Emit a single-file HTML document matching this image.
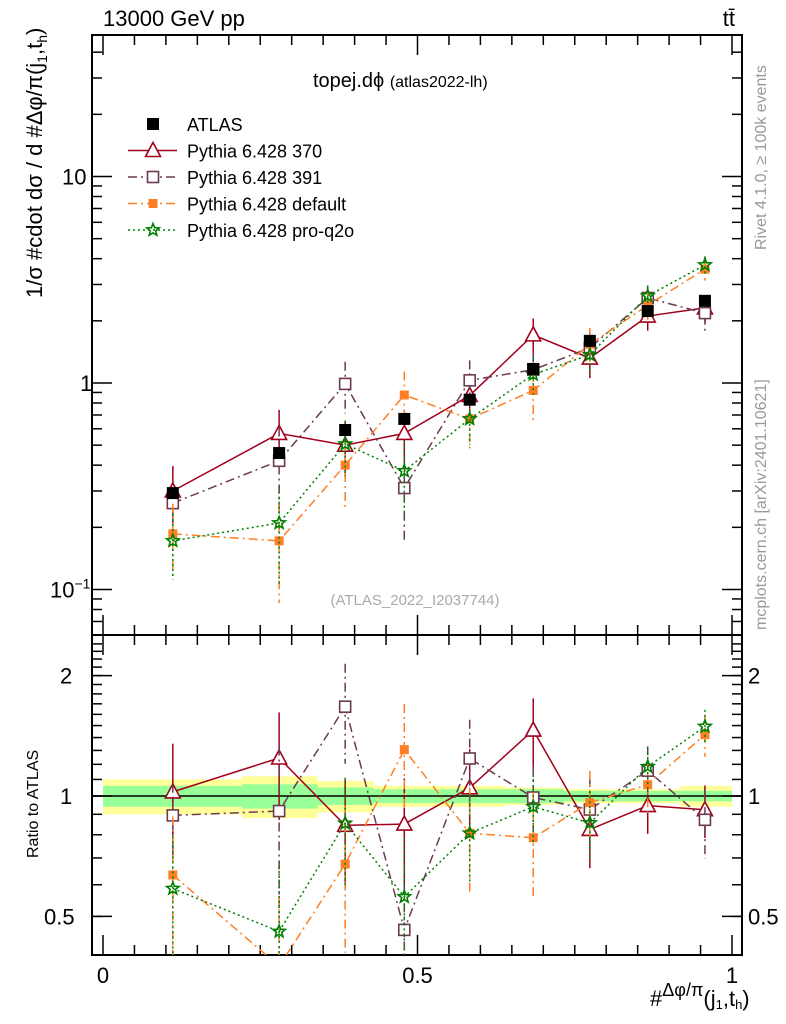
<!DOCTYPE html>
<html><head><meta charset="utf-8"><style>
html,body{margin:0;padding:0;background:#fff;overflow:hidden;width:786px;height:1024px;}
svg{display:block;}
svg text{font-family:"Liberation Sans",sans-serif;}
</style></head><body>
<svg id="c" width="786" height="1024" xmlns="http://www.w3.org/2000/svg"></svg>
<script>
const xs = [0.111,0.280,0.385,0.479,0.583,0.684,0.774,0.866,0.957];
const atlas = [0.293,0.458,0.592,0.67,0.83,1.17,1.6,2.23,2.5];
const p370 = [0.30,0.57,0.50,0.57,0.87,1.71,1.32,2.11,2.31];
const p391 = [0.262,0.42,0.99,0.31,1.03,1.16,1.48,2.58,2.18];
const pdef = [0.186,0.172,0.40,0.875,0.67,0.92,1.54,2.38,3.56];
const pq2o = [0.172,0.21,0.506,0.375,0.67,1.10,1.37,2.64,3.73];
const e370 = [0.32,0.3,0.3,0.3,0.25,0.2,0.2,0.15,0.15];
const e391 = [0.2,0.45,0.28,0.45,0.25,0.2,0.2,0.15,0.2];
const edef = [0.4,0.5,0.4,0.3,0.3,0.3,0.2,0.15,0.12];
const eq2o = [0.35,0.5,0.3,0.4,0.25,0.2,0.2,0.12,0.1];
const binEdges = [0,0.221,0.341,0.43,0.64,0.733,0.918,1.0];
const bandGreen = [0.06,0.07,0.05,0.04,0.04,0.03,0.03];
const bandYellow = [0.10,0.12,0.09,0.06,0.05,0.04,0.06];
const mainTicks = [[0.1,"10"],[1,"1"],[10,"10"]];
const ratioTicks = [0.5,1,2];
const xTicks = [0,0.5,1];

const NS="http://www.w3.org/2000/svg", svg=document.getElementById('c');
function el(t,a,p){const e=document.createElementNS(NS,t);for(const k in a)e.setAttribute(k,a[k]);(p||svg).appendChild(e);return e;}
const L=92,R=742,T=35,MB=635,RB=955;
const X=v=>103+v*629;
const Y=v=>383-Math.log10(v)*206.5;
const YR=v=>796-Math.log10(v)*400;

const defs=el('defs',{});
const c1=el('clipPath',{id:'cm'},defs);el('rect',{x:L,y:T,width:R-L,height:MB-T},c1);
const c2=el('clipPath',{id:'cr'},defs);el('rect',{x:L,y:MB,width:R-L,height:RB-MB},c2);

const gB=el('g',{});
for(let i=0;i<binEdges.length-1;i++){
  const x1=X(binEdges[i]),x2=X(binEdges[i+1]);
  el('rect',{x:x1,y:YR(1+bandYellow[i]),width:x2-x1,height:YR(1-bandYellow[i])-YR(1+bandYellow[i]),fill:'#ffff99'},gB);
  el('rect',{x:x1,y:YR(1+bandGreen[i]),width:x2-x1,height:YR(1-bandGreen[i])-YR(1+bandGreen[i]),fill:'#99ff99'},gB);
}
el('line',{x1:L,x2:R,y1:YR(1),y2:YR(1),stroke:'#000','stroke-width':1.5});

el('rect',{x:L,y:T,width:R-L,height:MB-T,fill:'none',stroke:'#000','stroke-width':2});
el('rect',{x:L,y:MB,width:R-L,height:RB-MB,fill:'none',stroke:'#000','stroke-width':2});

for(let d=-2;d<=1;d++){for(let m=1;m<10;m++){const v=m*Math.pow(10,d);const y=Y(v);if(y<T||y>MB)continue;const len=m==1?20:10;
 el('line',{x1:L,x2:L+len,y1:y,y2:y,stroke:'#000','stroke-width':1.5});el('line',{x1:R,x2:R-len,y1:y,y2:y,stroke:'#000','stroke-width':1.5});}}
mainTicks.forEach(t=>{const y=Y(t[0]);const tx=el('text',{x:t[0]==0.1?50:(t[0]==1?80:62),y:y+8,'font-size':22});
 if(t[0]==0.1){tx.textContent='10';el('tspan',{dy:-9,'font-size':14},tx).textContent='−1';}else tx.textContent=t[1];
 });
for(let v=0.4;v<=2.5;v+=0.1){const y=YR(v);if(y<MB||y>RB)continue;
 el('line',{x1:L,x2:L+10,y1:y,y2:y,stroke:'#000','stroke-width':1.5});el('line',{x1:R,x2:R-10,y1:y,y2:y,stroke:'#000','stroke-width':1.5});}
ratioTicks.forEach(v=>{const y=YR(v);el('line',{x1:L,x2:L+20,y1:y,y2:y,stroke:'#000','stroke-width':1.5});el('line',{x1:R,x2:R-20,y1:y,y2:y,stroke:'#000','stroke-width':1.5});
 const s=v==0.5?'0.5':String(v);
 const a=el('text',{x:v==0.5?44:60,y:y+8,'font-size':22});a.textContent=s;
 const b=el('text',{x:748,y:y+8,'font-size':22});b.textContent=s;});
for(let i=0;i<=20;i++){const v=i*0.05,x=X(v),len=i%10==0?20:10;
 [MB,RB].forEach(yb=>el('line',{x1:x,x2:x,y1:yb,y2:yb-len,stroke:'#000','stroke-width':1.5}));
 el('line',{x1:x,x2:x,y1:T,y2:T+len,stroke:'#000','stroke-width':1.5});
 el('line',{x1:x,x2:x,y1:MB,y2:MB+len,stroke:'#000','stroke-width':1.5});}
xTicks.forEach(v=>{const t=el('text',{x:X(v),y:983,'font-size':22,'text-anchor':'middle'});t.textContent=String(v);});

const series=[
 {name:'pythia-370',vals:p370,err:e370,col:'#a0001c',dash:'',mk:'tri'},
 {name:'pythia-391',vals:p391,err:e391,col:'#6b3a52',dash:'9,4,2,4',mk:'sq'},
 {name:'pythia-default',vals:pdef,err:edef,col:'#ff7f24',dash:'9,4,2,4',mk:'fsq'},
 {name:'pythia-pro-q2o',vals:pq2o,err:eq2o,col:'#008000',dash:'2,3',mk:'star'}];
function marker(mk,x,y,col,g){
 if(mk=='tri')el('path',{d:`M${x},${y-8}L${x+7.5},${y+6}L${x-7.5},${y+6}Z`,fill:'#fff',stroke:col,'stroke-width':1.6},g);
 else if(mk=='sq')el('rect',{x:x-5.5,y:y-5.5,width:11,height:11,fill:'#fff',stroke:col,'stroke-width':1.6},g);
 else if(mk=='fsq')el('rect',{x:x-4.5,y:y-4.5,width:9,height:9,fill:col},g);
 else if(mk=='bsq')el('rect',{x:x-6,y:y-6,width:12,height:12,fill:'#000'},g);
 else{let d='';for(let k=0;k<10;k++){const r=k%2?2.8:6.5,a=-Math.PI/2+k*Math.PI/5;d+=(k?'L':'M')+(x+r*Math.cos(a))+','+(y+r*Math.sin(a));}el('path',{d:d+'Z',fill:'none',stroke:col,'stroke-width':1.6},g);}
}
series.forEach(s=>{
 [['main',Y],['ratio',YR]].forEach(([pan,YF])=>{
  const g=el('g',{'clip-path':pan=='main'?'url(#cm)':'url(#cr)'});
  
  const vv=s.vals.map((v,i)=>pan=='main'?v:v/atlas[i]);
  el('polyline',{points:vv.map((v,i)=>X(xs[i])+','+YF(v)).join(' '),fill:'none',stroke:s.col,'stroke-width':1.5,'stroke-dasharray':s.dash},g);
  vv.forEach((v,i)=>{const x=X(xs[i]);
   el('line',{x1:x,x2:x,y1:YF(v*(1+s.err[i])),y2:YF(v*(1-s.err[i])),stroke:s.col,'stroke-width':1.5,'stroke-dasharray':s.dash},g);
   marker(s.mk,x,YF(v),s.col,g);});
 });
});
const ga=el('g',{});
atlas.forEach((v,i)=>marker('bsq',X(xs[i]),Y(v),'#000',ga));

const leg=[['ATLAS','#000','','bsq',false],['Pythia 6.428 370','#a0001c','','tri',true],['Pythia 6.428 391','#6b3a52','9,4,2,4','sq',true],['Pythia 6.428 default','#ff7f24','9,4,2,4','fsq',true],['Pythia 6.428 pro-q2o','#008000','2,3','star',true]];
leg.forEach((l,i)=>{const y=124+i*26.5;const g=el('g',{});
 if(l[4])el('line',{x1:128,x2:177,y1:y,y2:y,stroke:l[1],'stroke-width':1.5,'stroke-dasharray':l[2]},g);
 marker(l[3],153,y,l[1],g);
 const t=el('text',{x:187,y:y+7,'font-size':18},g);t.textContent=l[0];});

function txt(s,a,name){const t=el('text',a);t.textContent=s;return t;}
txt('13000 GeV pp',{x:103,y:26,'font-size':22},'energy-label');
txt('tt̄',{x:735,y:26,'font-size':22,'text-anchor':'end'},'process-label');
const tt=txt('topej.dϕ ',{x:313,y:87,'font-size':20},'plot-title');el('tspan',{'font-size':16},tt).textContent='(atlas2022-lh)';
txt('(ATLAS_2022_I2037744)',{x:415,y:605,'font-size':15,fill:'#aaa','text-anchor':'middle'},'analysis-id');
txt('Rivet 4.1.0, ≥ 100k events',{x:0,y:0,'font-size':16,fill:'#999',transform:'translate(766,250) rotate(-90)'},'rivet-label');
txt('mcplots.cern.ch [arXiv:2401.10621]',{x:0,y:0,'font-size':16,fill:'#999',transform:'translate(766,630) rotate(-90)'},'mcplots-label');
const yt=txt('1/σ #cdot dσ / d #',{x:0,y:0,'font-size':22,transform:'translate(42,298) rotate(-90)'},'y-axis-title');
el('tspan',{},yt).textContent='Δφ/π(j';el('tspan',{'font-size':14,dy:5},yt).textContent='1';el('tspan',{dy:-5},yt).textContent=',t';el('tspan',{'font-size':14,dy:5},yt).textContent='h';el('tspan',{dy:-5},yt).textContent=')';
txt('Ratio to ATLAS',{x:0,y:0,'font-size':16,transform:'translate(38,858) rotate(-90)'},'ratio-axis-title');
const xt=txt('#',{x:650,y:1006,'font-size':22},'x-axis-title');
el('tspan',{'font-size':18,dy:-10},xt).textContent='Δφ/π';el('tspan',{dy:10},xt).textContent='(j';el('tspan',{'font-size':13,dy:3},xt).textContent='1';el('tspan',{dy:-3},xt).textContent=',t';el('tspan',{'font-size':13,dy:3},xt).textContent='h';el('tspan',{dy:-3},xt).textContent=')';
</script>
</body></html>
